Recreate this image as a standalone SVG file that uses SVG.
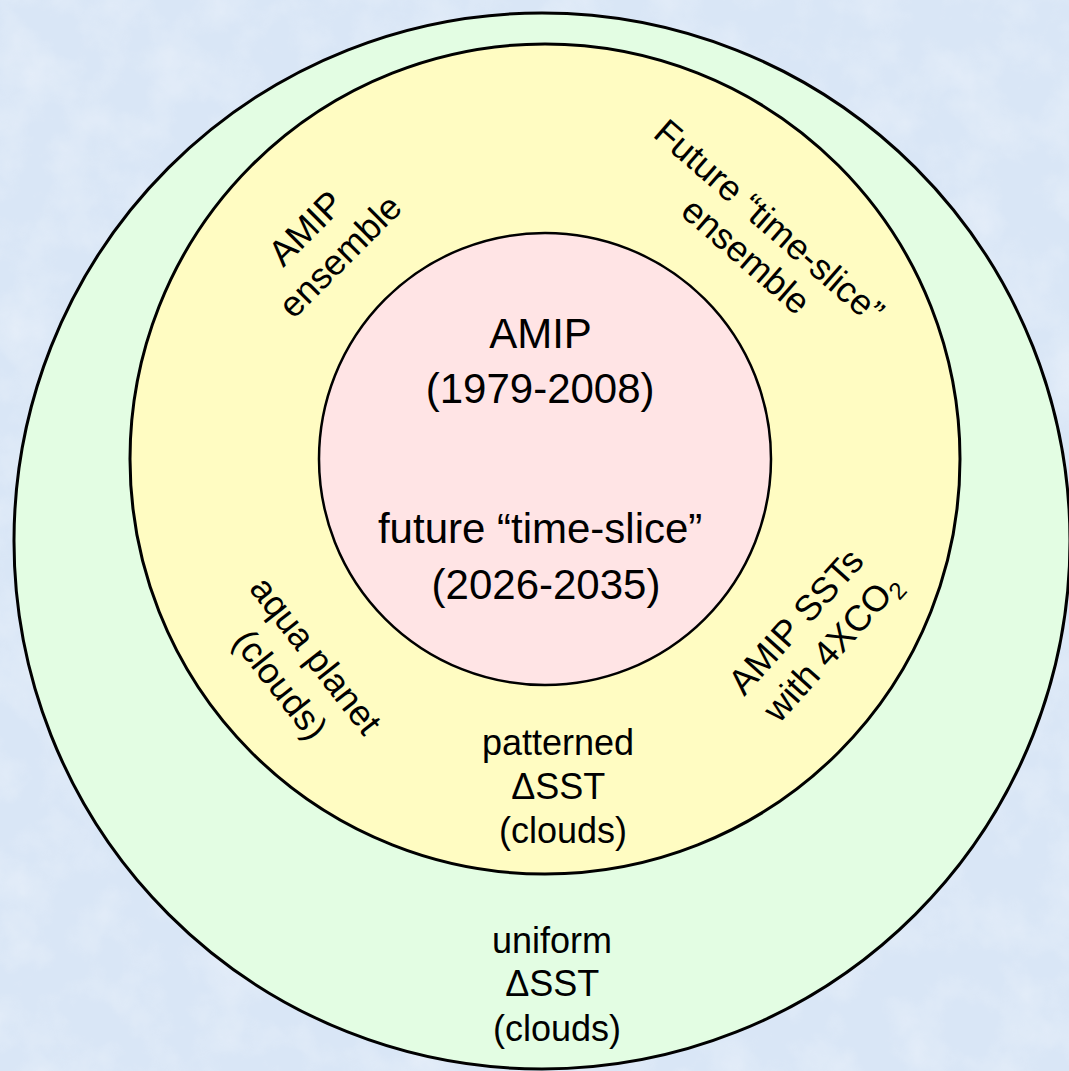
<svg xmlns="http://www.w3.org/2000/svg" width="1069" height="1071" viewBox="0 0 1069 1071">
  <defs>
    <style>
      .lbl { font-family: "Liberation Sans", Arial, sans-serif; fill: #000; text-anchor: middle; }
      .big { font-size: 42px; }
      .med { font-size: 36px; }
      .ring { stroke: #000; }
    </style>
    <filter id="marble" x="0" y="0" width="100%" height="100%">
      <feTurbulence type="fractalNoise" baseFrequency="0.02" numOctaves="4" seed="3" result="n"/>
      <feColorMatrix in="n" type="matrix" values="0 0 0 0 1  0 0 0 0 1  0 0 0 0 1  0.9 0 0 0 -0.35" result="w"/>
      <feComposite in="w" in2="SourceGraphic" operator="in"/>
    </filter>
  </defs>

  <g id="background">
    <rect x="0" y="0" width="1069" height="1071" fill="#d9e6f6"/>
    <rect x="0" y="0" width="1069" height="1071" fill="#d9e6f6" filter="url(#marble)" opacity="0.6"/>
  </g>

  <g id="outer-ring">
    <circle class="ring" cx="542" cy="541" r="528" fill="#e3fde3" stroke-width="3"/>
    <text class="lbl med">
      <tspan x="557" y="953">uniform</tspan>
      <tspan x="557" y="996">ΔSST</tspan>
      <tspan x="557" y="1041">(clouds)</tspan>
    </text>
  </g>

  <g id="middle-ring">
    <circle class="ring" cx="545" cy="459" r="415" fill="#fffcc2" stroke-width="3"/>
    <text class="lbl med">
      <tspan x="563" y="755">patterned</tspan>
      <tspan x="563" y="799">ΔSST</tspan>
      <tspan x="563" y="843">(clouds)</tspan>
    </text>
  </g>

  <g id="amip-ensemble">
    <text class="lbl med" transform="translate(324 240) rotate(-45)">
      <tspan x="0" y="-9">AMIP</tspan>
      <tspan x="0" y="35">ensemble</tspan>
    </text>
  </g>

  <g id="future-ensemble">
    <text class="lbl med" transform="translate(759 241) rotate(41)">
      <tspan x="0" y="-9">Future “time-slice”</tspan>
      <tspan x="0" y="32">ensemble</tspan>
    </text>
  </g>

  <g id="aqua-planet">
    <text class="lbl med" transform="translate(296 671) rotate(52)">
      <tspan x="5" y="-13">aqua planet</tspan>
      <tspan x="1" y="33">(clouds)</tspan>
    </text>
  </g>

  <g id="amip-4xco2">
    <text class="lbl med" transform="translate(815 632) rotate(-48)">
      <tspan x="0" y="-9">AMIP SSTs</tspan>
      <tspan x="0" y="35">with 4XCO<tspan font-size="24" dy="7">2</tspan></tspan>
    </text>
  </g>

  <g id="inner-circle">
    <circle class="ring" cx="545" cy="459" r="226" fill="#ffe4e5" stroke-width="2.5"/>
    <text class="lbl big">
      <tspan x="546" y="348">AMIP</tspan>
      <tspan x="546" y="403">(1979-2008)</tspan>
      <tspan x="546" y="543">future “time-slice”</tspan>
      <tspan x="546" y="599">(2026-2035)</tspan>
    </text>
  </g>

  <g id="connectors"/>
</svg>
